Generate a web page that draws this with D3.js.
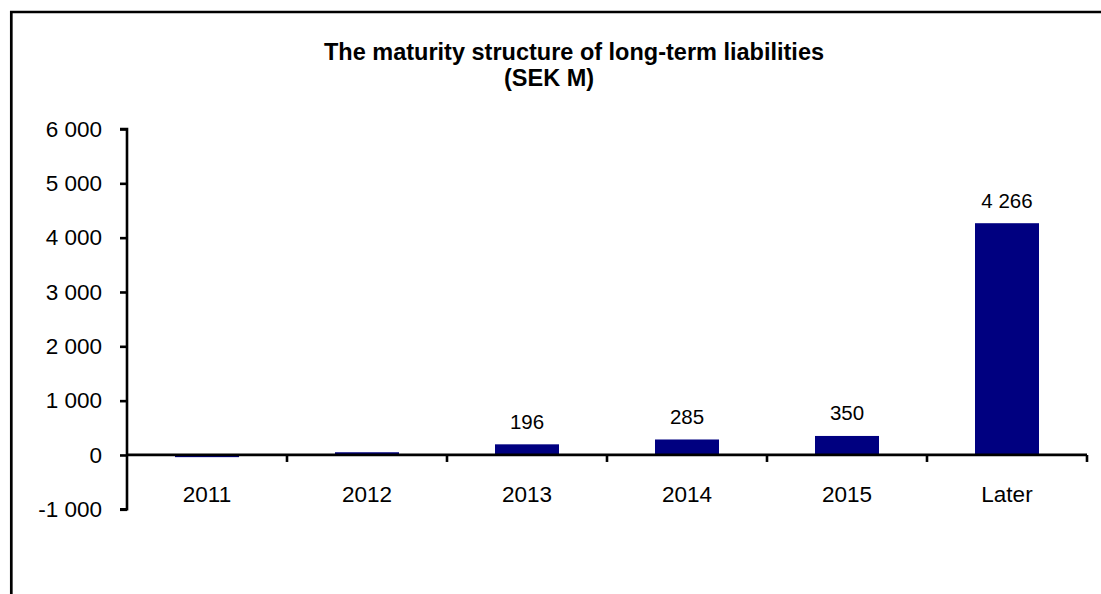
<!DOCTYPE html>
<html>
<head>
<meta charset="utf-8">
<script src="https://cdn.jsdelivr.net/npm/d3@7"></script>
<style>
  html, body { margin: 0; padding: 0; background: #fff; }
  svg { display: block; font-family: "Liberation Sans", Arial, sans-serif; }
</style>
</head>
<body>
<svg id="chart" width="1101" height="594"></svg>
<script>
// Maturity structure of long-term liabilities, SEK M
const categories = ["2011", "2012", "2013", "2014", "2015", "Later"];
const values = [-40, 50, 196, 285, 350, 4266];
// Only these bars carry a value label
const labelled = [false, false, true, true, true, true];
const yTicks = [-1000, 0, 1000, 2000, 3000, 4000, 5000, 6000];
const titleLines = ["The maturity structure of long-term liabilities", "(SEK M)"];

const svg = d3.select("#chart");
const fmt = v => d3.format(",")(v).replace(/,/g, " ").replace("\u2212", "-");

// Outer frame (runs past the right and bottom edges)
svg.append("path")
  .attr("d", "M11.3,600 V12 H1110")
  .attr("fill", "none")
  .attr("stroke", "#000")
  .attr("stroke-width", 2.7);

const x0 = 127, x1 = 1087;
const y = d3.scaleLinear().domain([-1000, 6000]).range([509.3, 129]);
const x = d3.scaleBand().domain(categories).range([x0, x1]).paddingInner(0.6).paddingOuter(0.3);

// Title
svg.append("text").attr("x", 574).attr("y", 59.5)
  .attr("text-anchor", "middle").attr("font-weight", "bold").attr("font-size", 23.5)
  .text(titleLines[0]);
svg.append("text").attr("x", 549).attr("y", 86)
  .attr("text-anchor", "middle").attr("font-weight", "bold").attr("font-size", 23.5)
  .text(titleLines[1]);

// Bars
svg.append("g").selectAll("rect").data(values).join("rect")
  .attr("x", (d, i) => x(categories[i]))
  .attr("width", x.bandwidth())
  .attr("y", d => y(Math.max(0, d)))
  .attr("height", d => Math.abs(y(d) - y(0)))
  .attr("fill", "#000080");

// Value labels
const labelData = categories.map((c, i) => ({ c, v: values[i] })).filter((o, i) => labelled[i]);
svg.append("g").selectAll("text").data(labelData).join("text")
  .attr("x", o => x(o.c) + x.bandwidth() / 2)
  .attr("y", o => y(o.v) - 15.5)
  .attr("text-anchor", "middle")
  .attr("font-size", 20.5)
  .text(o => fmt(o.v));

// Y axis
const yAxis = d3.axisLeft(y).tickValues(yTicks).tickSize(7).tickPadding(18).tickFormat(fmt);
const gy = svg.append("g").attr("transform", `translate(${x0},0)`).call(yAxis);
gy.select(".domain").attr("stroke-width", 2.6).attr("d", `M-7,${y(6000)}H0V${y(-1000)}H-7`);
gy.selectAll(".tick line").attr("stroke-width", 2.6);
gy.selectAll(".tick text").attr("font-size", 22.5).attr("font-family", "Liberation Sans, Arial, sans-serif").attr("fill", "#000");

// X axis along zero, with ticks between categories
const gx = svg.append("g").attr("transform", `translate(0,${y(0)})`);
gx.append("line").attr("x1", x0).attr("x2", x1).attr("stroke", "#000").attr("stroke-width", 2.7);
const bounds = d3.range(1, categories.length + 1).map(i => x0 + (x1 - x0) * i / categories.length);
gx.selectAll("line.tk").data(bounds).join("line").attr("class", "tk")
  .attr("x1", d => d).attr("x2", d => d).attr("y1", 0).attr("y2", 7)
  .attr("stroke", "#000").attr("stroke-width", 2.6);
gx.selectAll("text").data(categories).join("text")
  .attr("x", c => x(c) + x.bandwidth() / 2)
  .attr("y", 47.5)
  .attr("text-anchor", "middle")
  .attr("font-size", 22.5)
  .text(c => c);
</script>
</body>
</html>
